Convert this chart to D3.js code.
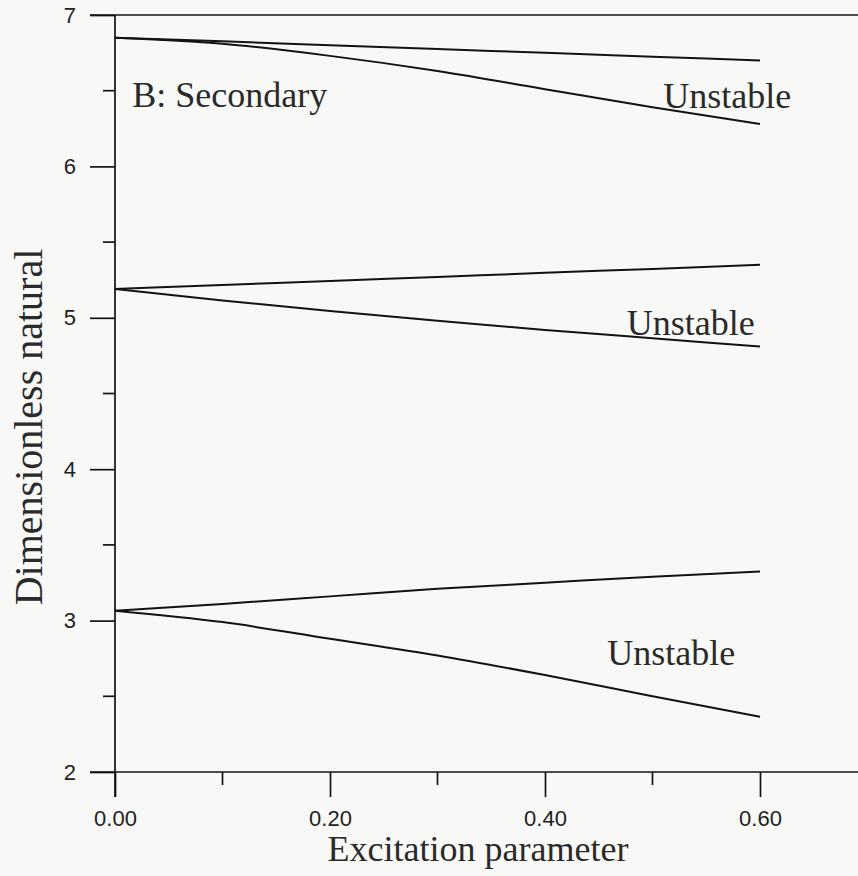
<!DOCTYPE html>
<html>
<head>
<meta charset="utf-8">
<script src="https://cdn.jsdelivr.net/npm/d3@7"></script>
<style>
  html, body { margin: 0; padding: 0; background: #f8f9f7; }
  #chart { width: 858px; height: 876px; }
  .serif { font-family: "Liberation Serif", "Times New Roman", serif; fill: #2a2a2a; }
</style>
</head>
<body>
<div id="chart"></div>
<script>
// excitation parameter samples
const xs = [0, 0.1, 0.2, 0.3, 0.4, 0.5, 0.6];

// dimensionless natural frequency branches
const mode1Upper = [6.85, 6.826, 6.80, 6.775, 6.75, 6.725, 6.70];
const mode1Lower = [6.85, 6.81, 6.73, 6.63, 6.51, 6.39, 6.28];
const mode2Upper = [5.19, 5.217, 5.243, 5.27, 5.297, 5.323, 5.35];
const mode2Lower = [5.19, 5.115, 5.045, 4.98, 4.92, 4.865, 4.81];
const mode3Upper = [3.065, 3.11, 3.16, 3.21, 3.25, 3.29, 3.325];
const mode3Lower = [3.065, 2.99, 2.88, 2.77, 2.64, 2.50, 2.365];

const series = [mode1Upper, mode1Lower, mode2Upper, mode2Lower, mode3Upper, mode3Lower];

const xMajor = [0, 0.2, 0.4, 0.6];
const xMinor = [0.1, 0.3, 0.5];
const yMajor = [2, 3, 4, 5, 6, 7];
const yMinor = [2.5, 3.5, 4.5, 5.5, 6.5];

// region labels: [x, y, text]
const notes = [
  [0.016, 6.39, "B: Secondary"],
  [0.51, 6.385, "Unstable"],
  [0.476, 4.885, "Unstable"],
  [0.458, 2.71, "Unstable"]
];

const width = 858, height = 876;

const svg = d3.select("#chart").append("svg")
  .attr("width", width)
  .attr("height", height);

const x = d3.scaleLinear().domain([0, 0.7]).range([115, 867.5]);
const y = d3.scaleLinear().domain([2, 7]).range([772, 15]);

const ink = "#131313";

// frame lines: top, bottom (both start left of y axis), left axis
svg.append("line")
  .attr("x1", 90).attr("x2", width)
  .attr("y1", y(7)).attr("y2", y(7))
  .attr("stroke", ink).attr("stroke-width", 1.7);
svg.append("line")
  .attr("x1", 90).attr("x2", width)
  .attr("y1", y(2)).attr("y2", y(2))
  .attr("stroke", ink).attr("stroke-width", 1.7);
svg.append("line")
  .attr("x1", x(0)).attr("x2", x(0))
  .attr("y1", y(7)).attr("y2", y(2) + 25)
  .attr("stroke", ink).attr("stroke-width", 1.7);

// y axis
const yAxis = d3.axisLeft(y).tickValues(yMajor).tickFormat(d3.format("d"))
  .tickSize(25).tickSizeOuter(0).tickPadding(14);
const gy = svg.append("g").attr("transform", `translate(${x(0)},0)`).call(yAxis);
gy.select(".domain").remove();
gy.selectAll(".tick line").attr("stroke", ink).attr("stroke-width", 1.7);
gy.selectAll(".tick text")
  .style("font-family", "'Liberation Sans', Arial, sans-serif")
  .style("font-size", "22px")
  .attr("fill", "#222");

svg.append("g").selectAll("line")
  .data(yMinor).join("line")
  .attr("x1", x(0) - 12).attr("x2", x(0))
  .attr("y1", d => y(d)).attr("y2", d => y(d))
  .attr("stroke", ink).attr("stroke-width", 1.7);

// x axis
const xAxis = d3.axisBottom(x).tickValues(xMajor).tickFormat(d3.format(".2f"))
  .tickSize(25).tickSizeOuter(0).tickPadding(13);
const gx = svg.append("g").attr("transform", `translate(0,${y(2)})`).call(xAxis);
gx.select(".domain").remove();
gx.selectAll(".tick line").attr("stroke", ink).attr("stroke-width", 1.7);
gx.selectAll(".tick text")
  .style("font-family", "'Liberation Sans', Arial, sans-serif")
  .style("font-size", "22px")
  .attr("fill", "#222");

svg.append("g").selectAll("line")
  .data(xMinor).join("line")
  .attr("x1", d => x(d)).attr("x2", d => x(d))
  .attr("y1", y(2)).attr("y2", y(2) + 13)
  .attr("stroke", ink).attr("stroke-width", 1.7);

// curves
const line = d3.line()
  .x((d, i) => x(xs[i]))
  .y(d => y(d))
  .curve(d3.curveMonotoneX);

svg.append("g").selectAll("path")
  .data(series).join("path")
  .attr("d", line)
  .attr("fill", "none")
  .attr("stroke", ink)
  .attr("stroke-width", 2);

// annotations
svg.append("g").selectAll("text")
  .data(notes).join("text")
  .attr("class", "serif")
  .attr("x", d => x(d[0]))
  .attr("y", d => y(d[1]))
  .attr("font-size", 36)
  .text(d => d[2]);

// axis titles
svg.append("text")
  .attr("class", "serif")
  .attr("x", 478).attr("y", 861)
  .attr("text-anchor", "middle")
  .attr("font-size", 36)
  .text("Excitation parameter");

svg.append("text")
  .attr("class", "serif")
  .attr("transform", "translate(42,427) rotate(-90)")
  .attr("text-anchor", "middle")
  .attr("font-size", 40)
  .text("Dimensionless natural");
</script>
</body>
</html>
